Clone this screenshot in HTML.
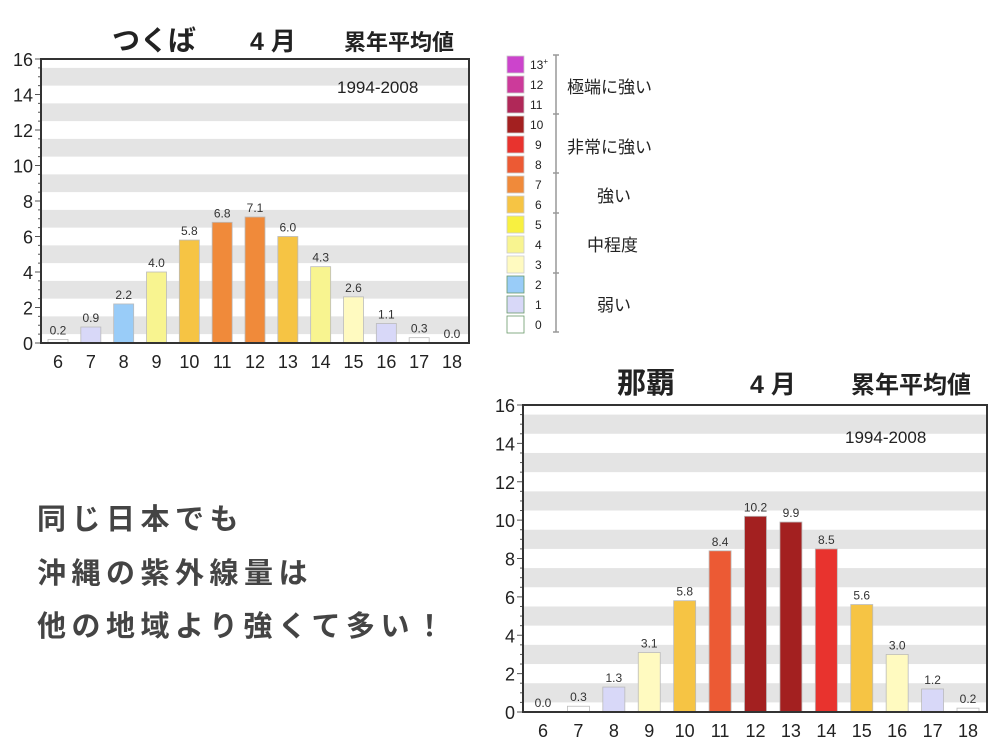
<!DOCTYPE html>
<html><head><meta charset="utf-8">
<style>
html,body{margin:0;padding:0;background:#fff;}
svg{display:block;}
text{font-family:"Liberation Sans","Noto Sans CJK JP",sans-serif;}
</style></head>
<body>
<svg id="s" width="1000" height="750" xmlns="http://www.w3.org/2000/svg">
<g id="c1"></g><g id="c2"></g><g id="lg"></g>
<text x="112" y="50" font-size="28" font-weight="bold" fill="#222">つくば</text>
<text x="250" y="50" font-size="25" font-weight="bold" fill="#222">4 月</text>
<text x="344" y="50" font-size="22" font-weight="bold" fill="#222">累年平均値</text>
<text x="617" y="393" font-size="29" font-weight="bold" fill="#222">那覇</text>
<text x="750" y="393" font-size="25" font-weight="bold" fill="#222">4 月</text>
<text x="851" y="393" font-size="24" font-weight="bold" fill="#222">累年平均値</text>
<g font-size="29" font-weight="bold" fill="#444" letter-spacing="5.5">
<text x="37" y="529">同じ日本でも</text>
<text x="37" y="583">沖縄の紫外線量は</text>
<text x="37" y="636">他の地域より強くて多い！</text>
</g>
</svg>
<script>
var C={0:"#ffffff",1:"#d8d8f8",2:"#99ccf8",3:"#fffac0",4:"#f8f490",5:"#f8f040",6:"#f6c444",7:"#f08a3a",8:"#ec5a34",9:"#e8332e",10:"#a32020",11:"#b02858",12:"#cc3a9a",13:"#cc44cc"};
function chart(id,L,R,T,B,c0,c18,bw,vals,cls,yrx,yry){
 var g=document.getElementById(id),h="",u=(B-T)/16;
 h+='<rect x="'+L+'" y="'+T+'" width="'+(R-L)+'" height="'+(B-T)+'" fill="#fff"/>';
 for(var k=1;k<16;k+=2){h+='<rect x="'+L+'" y="'+(B-(k+0.5)*u)+'" width="'+(R-L)+'" height="'+u+'" fill="#e4e4e4"/>';}
 for(var v=0;v<=16;v+=0.5){var y=B-v*u;h+='<line x1="'+(L-(v%2==0?6:3))+'" y1="'+y+'" x2="'+L+'" y2="'+y+'" stroke="#555" stroke-width="1"/>';
  if(v%2==0)h+='<text x="'+(L-8)+'" y="'+(y+7)+'" font-size="18" fill="#222" text-anchor="end">'+v+'</text>';}
 var st=(c18-c0)/12;
 for(var i=0;i<13;i++){var cx=c0+i*st,v=vals[i],y=B-v*u;
  if(v>0)h+='<rect x="'+(cx-bw/2)+'" y="'+y+'" width="'+bw+'" height="'+(v*u)+'" fill="'+C[cls[i]]+'" stroke="#bbb" stroke-width="0.8"/>';
  h+='<text x="'+cx+'" y="'+(y-5)+'" font-size="12" fill="#333" text-anchor="middle">'+v.toFixed(1)+'</text>';
  h+='<text x="'+cx+'" y="'+(B+25)+'" font-size="18" fill="#222" text-anchor="middle">'+(i+6)+'</text>';}
 h+='<rect x="'+L+'" y="'+T+'" width="'+(R-L)+'" height="'+(B-T)+'" fill="none" stroke="#333" stroke-width="2"/>';
 h+='<text x="'+yrx+'" y="'+yry+'" font-size="17" fill="#222">1994-2008</text>';
 g.innerHTML=h;}
chart("c1",41,469,59,343,58,452,20,[0.2,0.9,2.2,4.0,5.8,6.8,7.1,6.0,4.3,2.6,1.1,0.3,0.0],[0,1,2,4,6,7,7,6,4,3,1,0,0],337,93);
chart("c2",523,987,405,712,543,968,22,[0.0,0.3,1.3,3.1,5.8,8.4,10.2,9.9,8.5,5.6,3.0,1.2,0.2],[0,0,1,3,6,8,10,10,9,6,3,1,0],845,443);
var lg=document.getElementById("lg"),h="";
for(var n=13;n>=0;n--){var y=56+(13-n)*20;
 h+='<rect x="507" y="'+y+'" width="17" height="17" fill="'+C[n]+'" stroke="'+(n<=2?"#6a9a6a":"#ccc")+'" stroke-width="0.8"/>';
 h+='<text x="'+(n>=10?530:535)+'" y="'+(y+13)+'" font-size="12" fill="#222">'+(n==13?'13<tspan font-size="8" dy="-5">+</tspan>':n)+'</text>';}
h+='<line x1="556" y1="55" x2="556" y2="332" stroke="#999" stroke-width="1.5"/>';
[55,114,173,213,273,332].forEach(function(y){h+='<line x1="553" y1="'+y+'" x2="559" y2="'+y+'" stroke="#999" stroke-width="1.5"/>';});
h+='<g font-size="17" fill="#222"><text x="567" y="93">極端に強い</text><text x="567" y="153">非常に強い</text><text x="597" y="202">強い</text><text x="587" y="251">中程度</text><text x="597" y="311">弱い</text></g>';
lg.innerHTML=h;
</script>
</body></html>
